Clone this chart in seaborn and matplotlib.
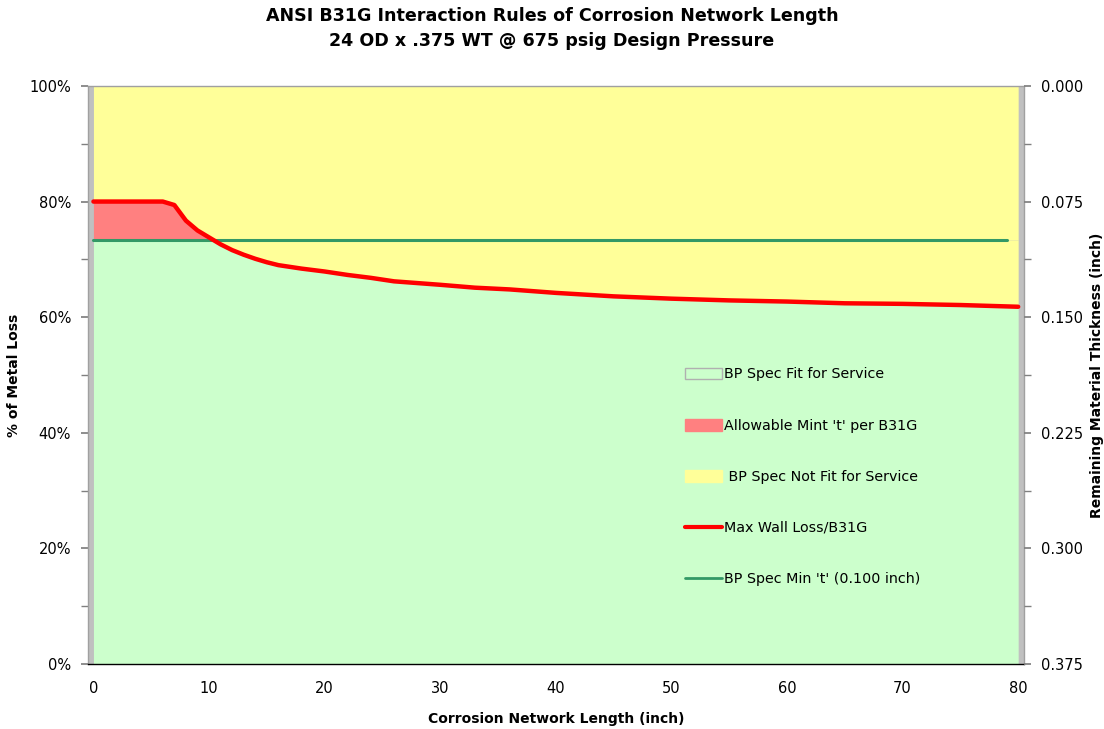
import numpy as np
import pandas as pd
import matplotlib
matplotlib.use("Agg")
import matplotlib.pyplot as plt
from matplotlib.patches import Patch
from matplotlib.lines import Line2D
from matplotlib.ticker import MultipleLocator, FixedLocator, FuncFormatter
import seaborn as sns

# Corrosion network length (inch) and the B31G maximum allowable wall loss (%)
length_in = [0, 1, 2, 3, 4, 5, 6, 7, 8, 9, 10, 11, 12, 13, 14, 15, 16, 17, 18,
             20, 22, 24, 26, 28, 30, 33, 36, 40, 45, 50, 55, 60, 65, 70, 75, 80]
max_wall_loss_pct = [80.0, 80.0, 80.0, 80.0, 80.0, 80.0, 80.0, 79.4, 76.7, 75.0,
                     73.8, 72.6, 71.6, 70.8, 70.1, 69.5, 69.0, 68.7, 68.4,
                     67.9, 67.3, 66.8, 66.2, 65.9, 65.6, 65.1, 64.8, 64.2,
                     63.6, 63.2, 62.9, 62.7, 62.4, 62.3, 62.1, 61.8]

# Pipe data
nominal_wt = 0.375          # inch
spec_min_t = 0.100          # inch
spec_line_length = [0, 79]  # extent of the BP spec line
x_tick_labels = [0, 10, 20, 30, 40, 50, 60, 70, 80]
right_tick_labels = [0.000, 0.075, 0.150, 0.225, 0.300, 0.375]

spec_loss_pct = (nominal_wt - spec_min_t) / nominal_wt * 100.0

df = pd.DataFrame({"length": length_in, "loss": max_wall_loss_pct})
spec_df = pd.DataFrame({"length": spec_line_length,
                        "loss": [spec_loss_pct] * len(spec_line_length)})

sns.set_theme(style="white")
plt.rcParams["font.family"] = ["DejaVu Sans"]
plt.rcParams["text.color"] = "black"
plt.rcParams["axes.labelcolor"] = "black"
plt.rcParams["xtick.labelcolor"] = "black"
plt.rcParams["ytick.labelcolor"] = "black"

fig = plt.figure(figsize=(11.04, 7.29), dpi=100)
ax = fig.add_axes([0.0794, 0.0892, 0.8481, 0.7929])
ax.set_facecolor("#C0C0C0")

x = np.array(length_in, dtype=float)
y = np.array(max_wall_loss_pct, dtype=float)

c_green = "#CCFFCC"
c_yellow = "#FFFF99"
c_red_fill = "#FF8080"
c_red = "#FF0000"
c_line_green = "#339966"

# Fit for service: below both the spec line and the B31G curve
ax.fill_between(x, 0, np.minimum(y, spec_loss_pct), color=c_green, lw=0, zorder=1)
# Allowable per B31G but beyond the spec minimum
ax.fill_between(x, spec_loss_pct, np.maximum(y, spec_loss_pct), color=c_red_fill,
                lw=0, zorder=1)
# Not fit for service: above the curve
ax.fill_between(x, np.maximum(y, spec_loss_pct), 100, color=c_yellow, lw=0, zorder=1)
ax.fill_between(x, y, np.maximum(y, spec_loss_pct), where=y < spec_loss_pct,
                color=c_yellow, lw=0, zorder=1, interpolate=True)

sns.lineplot(data=spec_df, x="length", y="loss", ax=ax, color=c_line_green,
             lw=2.2, zorder=3)
sns.lineplot(data=df, x="length", y="loss", ax=ax, color=c_red, lw=3.2, zorder=4)

ax.set_xlim(-0.5, 80.5)
ax.set_ylim(0, 100)

# X axis: labels at category centres, tick marks between categories
ax.xaxis.set_major_locator(FixedLocator(x_tick_labels))
ax.xaxis.set_minor_locator(FixedLocator(np.arange(-0.5, 81, 5)))
ax.tick_params(axis="x", which="major", length=0, pad=12, labelsize=10.5)
ax.tick_params(axis="x", which="minor", length=5, width=1, color="black",
               direction="out")

ax.yaxis.set_major_locator(MultipleLocator(20))
ax.yaxis.set_minor_locator(MultipleLocator(10))
ax.yaxis.set_major_formatter(FuncFormatter(lambda v, p: f"{v:.0f}%"))
ax.tick_params(axis="y", which="both", direction="out", color="#808080",
               labelsize=10.5, left=True, length=5)
ax.tick_params(axis="y", which="major", pad=7)

for side in ("left", "top", "right"):
    ax.spines[side].set_color("#A0A0A0")
    ax.spines[side].set_linewidth(1.0)
ax.spines["bottom"].set_color("black")
ax.spines["bottom"].set_linewidth(1.0)

ax.set_xlabel("Corrosion Network Length (inch)", fontsize=10, fontweight="bold",
              labelpad=12)
ax.set_ylabel("% of Metal Loss", fontsize=10, fontweight="bold", labelpad=6)

# Right axis: remaining wall thickness
ax2 = ax.twinx()
ax2.set_ylim(nominal_wt, 0.0)
ax2.yaxis.set_major_locator(FixedLocator(right_tick_labels))
ax2.yaxis.set_minor_locator(MultipleLocator(nominal_wt / 10))
ax2.yaxis.set_major_formatter(FuncFormatter(lambda v, p: f"{v:.3f}"))
ax2.tick_params(axis="y", which="both", direction="out", color="#808080",
                length=5, labelsize=10.5, pad=7)
for side in ("left", "top", "right", "bottom"):
    ax2.spines[side].set_visible(False)
ax2.set_ylabel("Remaining Material Thickness (inch)", fontsize=10,
               fontweight="bold", labelpad=5)
ax2.grid(False)
ax.grid(False)

fig.suptitle("ANSI B31G Interaction Rules of Corrosion Network Length\n"
             "24 OD x .375 WT @ 675 psig Design Pressure",
             fontsize=12.6, fontweight="bold", y=0.99, linespacing=1.45)

handles = [
    Patch(facecolor=c_green, edgecolor="#B0B0B0", linewidth=1.0,
          label="BP Spec Fit for Service"),
    Patch(facecolor=c_red_fill, edgecolor=c_red_fill,
          label="Allowable Mint 't' per B31G"),
    Patch(facecolor=c_yellow, edgecolor=c_yellow,
          label=" BP Spec Not Fit for Service"),
    Line2D([0], [0], color=c_red, lw=3, label="Max Wall Loss/B31G"),
    Line2D([0], [0], color=c_line_green, lw=2, label="BP Spec Min 't' (0.100 inch)"),
]
leg = ax.legend(handles=handles, loc="upper left", bbox_to_anchor=(0.632, 0.523),
                frameon=False, fontsize=10.3, labelspacing=2.6, handlelength=2.6,
                handleheight=0.9, handletextpad=0.15, borderaxespad=0)
leg.set_zorder(10)

fig.savefig("out.png", dpi=100, facecolor="white")
